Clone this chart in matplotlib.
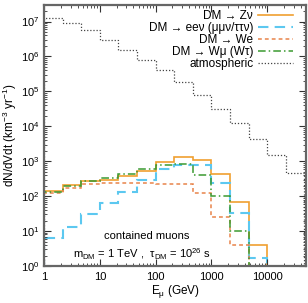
import numpy as np
import matplotlib
matplotlib.use("Agg")
import matplotlib.pyplot as plt
from matplotlib.ticker import LogLocator, NullFormatter, FixedLocator, FixedFormatter, LogFormatterSciNotation

plt.rcParams['font.family'] = ['Liberation Sans', 'DejaVu Sans']
plt.rcParams['mathtext.fontset'] = 'custom'
plt.rcParams['mathtext.rm'] = 'Liberation Sans'
plt.rcParams['mathtext.it'] = 'Liberation Sans'

# bin edges (GeV), three bins per decade
edges = [1.0, 2.154, 4.642, 10.0, 21.54, 46.42, 100.0, 215.4, 464.2,
         1000.0, 2154.0, 4642.0, 10000.0, 21544.0, 46416.0]

atmospheric = [1.25e7, 8.8e6, 5.7e6, 2.95e6, 1.56e6, 8.1e5, 4.1e5, 1.9e5,
               8.1e4, 3.2e4, 1.26e4, 4.4e3, 1.47e3, 4.6e2]
z_nu = [141, 205, 268, 298, 389, 540, 930, 1300, 1080, 440, 68, 3.9]
eenu = [6.2, 13.2, 30, 64, 133, 298, 605, 800, 780, 240, 33, 1.66]
w_e = [124, 176, 220, 232, 234, 232, 230, 225, 123, 26, 4.0]
w_mu = [130, 200, 275, 330, 440, 600, 800, 820, 415, 98, 10]

x_ticks = [1, 10, 100, 1000, 10000]
x_ticklabels = ['1', '10', '100', '1000', '10000']
y_ticks = [1e0, 1e1, 1e2, 1e3, 1e4, 1e5, 1e6, 1e7]
y_ticklabels = ['10$^{%d}$' % k for k in range(8)]

labels = ["DM \u2192 Z\u03bd", "DM \u2192 ee\u03bd (\u03bc\u03bc\u03bd/\u03c4\u03c4\u03bd)",
          "DM \u2192 We", "DM \u2192 W\u03bc (W\u03c4)", "atmospheric"]

fig = plt.figure(figsize=(3.08, 3.03), dpi=100)
ax = fig.add_axes([0.143, 0.122, 0.851, 0.862])
ax.set_xscale('log')
ax.set_yscale('log')

base = 1e-5
ax.stairs(z_nu, edges[:len(z_nu) + 1], baseline=base, color='#f0a030', lw=1.2,
          label=labels[0])
ax.stairs(eenu, edges[:len(eenu) + 1], baseline=base, color='#5cc8f0', lw=1.5,
          ls=(0, (5, 3)), label=labels[1])
ax.stairs(w_e, edges[:len(w_e) + 1], baseline=base, color='#e8844a', lw=1.1,
          ls=(0, (2.5, 2)), label=labels[2])
ax.stairs(w_mu, edges[:len(w_mu) + 1], baseline=base, color='#3a9a30', lw=1.1,
          ls=(0, (5, 2, 1, 2)), label=labels[3])
ax.stairs(atmospheric, edges[:len(atmospheric) + 1], baseline=base, color='#444444',
          lw=0.9, ls=(0, (1, 1.5)), label=labels[4])

ax.set_xlim(1, 50000)
ax.set_ylim(1, 3e7)

ax.xaxis.set_major_locator(FixedLocator(x_ticks))
ax.xaxis.set_major_formatter(FixedFormatter(x_ticklabels))
ax.xaxis.set_minor_locator(LogLocator(base=10, subs=np.arange(2, 10), numticks=20))
ax.xaxis.set_minor_formatter(NullFormatter())
ax.yaxis.set_major_locator(FixedLocator(y_ticks))
ax.yaxis.set_major_formatter(FixedFormatter(y_ticklabels))
ax.yaxis.set_minor_locator(LogLocator(base=10, subs=np.arange(2, 10), numticks=20))
ax.yaxis.set_minor_formatter(NullFormatter())

ax.tick_params(which='both', direction='in', top=True, right=True, labelsize=8,
               color='#333333')
ax.tick_params(which='major', length=5, width=0.8)
ax.tick_params(which='minor', length=2.5, width=0.6)
ax.tick_params(axis='x', pad=4)
for s in ax.spines.values():
    s.set_color('#666666')
    s.set_linewidth(1.6)

ax.set_xlabel('E$_\\mu$ (GeV)', fontsize=8.5, labelpad=1)
ax.set_ylabel('dN/dVdt (km$^{-3}$ yr$^{-1}$)', fontsize=8.5, labelpad=1)

ax.text(0.39, 0.115, 'contained muons', transform=ax.transAxes, fontsize=8,
        ha='center', va='center')
ax.text(0.375, 0.045, 'm$_{\\rm DM}$ = 1 TeV ,  \u03c4$_{\\rm DM}$ = 10$^{26}$ s',
        transform=ax.transAxes, fontsize=8, ha='center', va='center')

leg = ax.legend(loc='upper right', bbox_to_anchor=(0.969, 0.997), fontsize=8.5,
                frameon=False, markerfirst=False, handlelength=3.0,
                labelspacing=0.0, borderaxespad=0.0, handletextpad=0.4)

fig.savefig('out.png', dpi=100)
